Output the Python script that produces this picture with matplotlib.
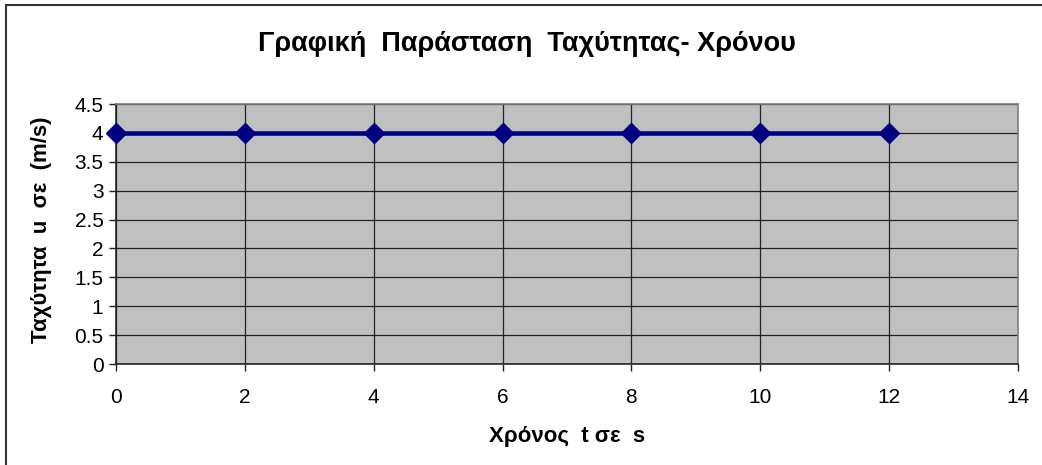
import matplotlib
matplotlib.use("Agg")
import matplotlib.pyplot as plt
from matplotlib.patches import Rectangle

# data
time_s = [0, 2, 4, 6, 8, 10, 12]
speed_ms = [4, 4, 4, 4, 4, 4, 4]
x_ticks = [0, 2, 4, 6, 8, 10, 12, 14]
y_ticks = [0, 0.5, 1, 1.5, 2, 2.5, 3, 3.5, 4, 4.5]
y_tick_labels = ["0", "0.5", "1", "1.5", "2", "2.5", "3", "3.5", "4", "4.5"]

plt.rcParams['font.family'] = ['Liberation Sans', 'DejaVu Sans']

fig = plt.figure(figsize=(10.42, 4.65), dpi=100)
ax = fig.add_axes([0.1113, 0.2172, 0.8656, 0.559])

# outer chart border (only top and left visible in the reference)
fig.patches.append(Rectangle((5.5 / 1042, -0.1), 1.2, (465 - 5.5) / 465 + 0.1,
                             transform=fig.transFigure, fill=False,
                             edgecolor="#333333", linewidth=1.5))

ax.set_facecolor("#c0c0c0")
ax.plot(time_s, speed_ms, color="#000080", linewidth=3.3, marker="D",
        markersize=10, clip_on=False, zorder=5)

ax.set_xlim(0, 14)
ax.set_ylim(0, 4.5)
ax.set_xticks(x_ticks)
ax.set_yticks(y_ticks)
ax.set_yticklabels(y_tick_labels)
ax.grid(True, color="#222222", linewidth=0.9)
ax.set_axisbelow(True)

for side in ["top", "right"]:
    ax.spines[side].set_color("#808080")
    ax.spines[side].set_linewidth(1.2)
for side in ["left", "bottom"]:
    ax.spines[side].set_color("#222222")
    ax.spines[side].set_linewidth(1.2)

ax.tick_params(axis="both", labelsize=15, length=5, width=1, color="#222222")
ax.tick_params(axis="x", pad=12)
ax.tick_params(axis="y", pad=4)

fig.text(0.506, 0.905, "Γραφική  Παράσταση  Ταχύτητας- Χρόνου",
         ha="center", va="center", fontsize=19.5, fontweight="bold")
fig.text(0.544, 0.062, "Χρόνος  t σε  s", ha="center", va="center",
         fontsize=16, fontweight="bold")
fig.text(0.040, 0.505, "Ταχύτητα  u  σε  (m/s)", ha="center", va="center",
         fontsize=16, fontweight="bold", rotation=90)

fig.savefig("out.png", dpi=100)
